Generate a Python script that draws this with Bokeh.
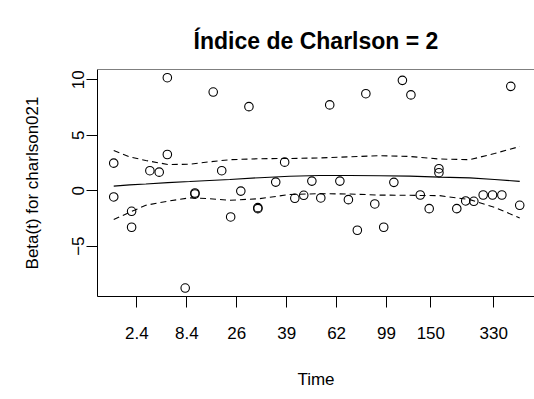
from bokeh.plotting import figure
from bokeh.models import Range1d, FixedTicker, Span
from bokeh.embed import file_html
from bokeh.resources import INLINE

# Scaled Schoenfeld residuals on the KM-transformed time scale
resid_t = [0.000, 0.000, 0.044, 0.044, 0.089, 0.112, 0.132, 0.132, 0.176, 0.200,
           0.200, 0.245, 0.266, 0.288, 0.313, 0.333, 0.355, 0.355, 0.399, 0.421,
           0.446, 0.468, 0.488, 0.510, 0.532, 0.557, 0.578, 0.600, 0.621, 0.643,
           0.665, 0.690, 0.711, 0.732, 0.755, 0.777, 0.801, 0.801, 0.845, 0.867,
           0.887, 0.910, 0.933, 0.956, 0.978, 1.000]
resid_beta = [2.48, -0.57, -1.86, -3.30, 1.80, 1.67, 10.18, 3.26, -8.78, -0.21,
              -0.30, 8.89, 1.80, -2.37, -0.04, 7.57, -1.53, -1.62, 0.77, 2.57,
              -0.69, -0.42, 0.86, -0.66, 7.73, 0.86, -0.81, -3.57, 8.74, -1.20,
              -3.30, 0.75, 9.94, 8.63, -0.39, -1.62, 1.98, 1.62, -1.62, -0.93,
              -0.96, -0.39, -0.39, -0.39, 9.40, -1.32]

# Smoothed beta(t) with its confidence band
curve_t = [0.000, 0.039, 0.079, 0.133, 0.187, 0.236, 0.286, 0.360, 0.433,
           0.507, 0.581, 0.655, 0.729, 0.803, 0.877, 0.938, 1.000]
curve_fit = [0.41, 0.52, 0.60, 0.72, 0.82, 0.92, 1.00, 1.17, 1.30,
             1.36, 1.37, 1.35, 1.31, 1.22, 1.15, 1.00, 0.84]
curve_upper = [3.62, 3.05, 2.72, 2.36, 2.38, 2.60, 2.79, 2.88, 2.90,
               2.95, 3.05, 3.15, 3.08, 2.85, 2.79, 3.35, 3.98]
curve_lower = [-2.61, -1.95, -1.32, -0.95, -0.65, -0.72, -0.87, -0.72, -0.35,
               -0.27, -0.30, -0.40, -0.42, -0.45, -0.81, -1.50, -2.46]

# Time axis: tick positions on the transformed scale and their time labels
time_tick_pos = [0.057, 0.180, 0.303, 0.426, 0.549, 0.672, 0.781, 0.936]
time_tick_lab = ["2.4", "8.4", "26", "39", "62", "99", "150", "330"]
beta_ticks = [-5, 0, 5, 10]

FONT = "Liberation Sans"
Y_TOP = 10.92

p = figure(width=534, height=399, output_backend="svg", toolbar_location=None,
           x_range=Range1d(-0.04, 1.0364), y_range=Range1d(-9.54, Y_TOP),
           min_border_left=97, min_border_right=0, min_border_top=69,
           min_border_bottom=103)

p.title.text = "Índice de Charlson = 2"
p.title.align = "center"
p.title.text_font = FONT
p.title.text_font_size = "23px"
p.title.text_font_style = "bold"
p.title.text_color = "black"
p.title.standoff = 31

p.outline_line_color = None
p.xgrid.visible = False
p.ygrid.visible = False
p.background_fill_color = "white"
p.border_fill_color = "white"

# top edge of the box
p.add_layout(Span(location=Y_TOP, dimension="width", line_color="black", line_width=1))

for ax in (p.xaxis[0], p.yaxis[0]):
    ax.axis_line_color = "black"
    ax.major_tick_line_color = "black"
    ax.minor_tick_line_color = None
    ax.major_tick_in = 0
    ax.major_tick_out = 11
    ax.major_label_text_font = FONT
    ax.major_label_text_font_size = "17px"
    ax.major_label_text_color = "black"
    ax.axis_label_text_font = FONT
    ax.axis_label_text_font_size = "17px"
    ax.axis_label_text_font_style = "normal"
    ax.axis_label_text_color = "black"

p.xaxis.ticker = FixedTicker(ticks=time_tick_pos)
p.xaxis.major_label_overrides = {t: s for t, s in zip(time_tick_pos, time_tick_lab)}
p.xaxis.axis_label = "Time"
p.xaxis.major_label_standoff = 19
p.xaxis.axis_label_standoff = 28

p.yaxis.ticker = FixedTicker(ticks=beta_ticks)
p.yaxis.major_label_orientation = "vertical"
p.yaxis.major_label_standoff = 2
p.yaxis.axis_label = "Beta(t) for charlson021"
p.yaxis.axis_label_standoff = 28

p.line(curve_t, curve_fit, line_color="black", line_width=1.1)
p.line(curve_t, curve_upper, line_color="black", line_width=1.1, line_dash="6 4")
p.line(curve_t, curve_lower, line_color="black", line_width=1.1, line_dash="6 4")

p.scatter(resid_t, resid_beta, marker="circle", size=8.5, fill_color=None,
          line_color="black", line_width=1.1)

open("out.html", "w").write(file_html(p, INLINE))
